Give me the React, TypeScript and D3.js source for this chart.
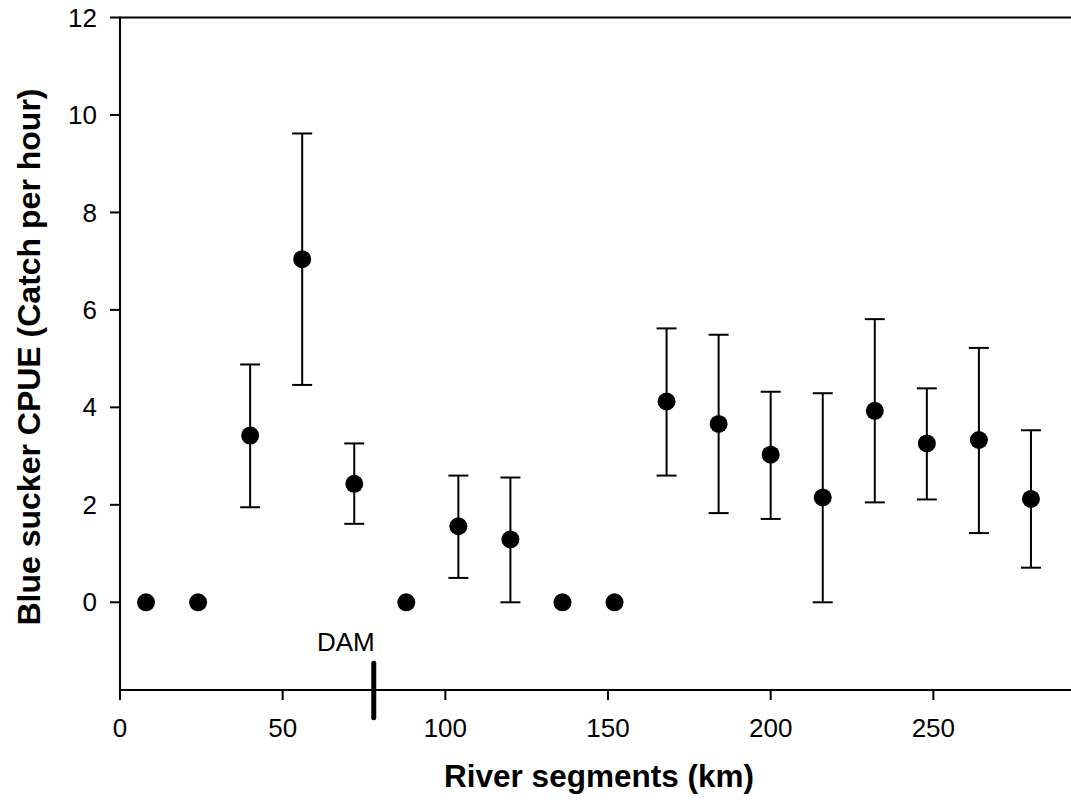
import React from "react";
import * as d3 from "d3";

const segmentsKm = [8, 24, 40, 56, 72, 88, 104, 120, 136, 152, 168, 184, 200, 216, 232, 248, 264, 280];
const cpueMean = [0, 0, 3.42, 7.04, 2.43, 0, 1.56, 1.29, 0, 0, 4.12, 3.66, 3.03, 2.15, 3.93, 3.26, 3.33, 2.12];
const cpueLower = [null, null, 1.95, 4.46, 1.61, null, 0.5, 0, null, null, 2.6, 1.83, 1.71, 0, 2.05, 2.11, 1.42, 0.71];
const cpueUpper = [null, null, 4.88, 9.62, 3.26, null, 2.6, 2.56, null, null, 5.62, 5.49, 4.32, 4.29, 5.81, 4.39, 5.22, 3.53];
const xTicks = [0, 50, 100, 150, 200, 250];
const yTicks = [0, 2, 4, 6, 8, 10, 12];
const damKm = 78;
const damSpan = [-1.25, -2.37];
const damLabel = "DAM";
const xTitle = "River segments (km)";
const yTitle = "Blue sucker CPUE (Catch per hour)";

const W = 1071;
const H = 805;
const left = 120;
const right = 1070;
const top = 17.5;
const bottom = 690;

export default function App() {
  const x = d3.scaleLinear().domain([0, 292]).range([left, right]);
  const y = d3.scaleLinear().domain([-1.8, 12]).range([bottom, top]);
  const font = "Arial, 'Liberation Sans', Helvetica, sans-serif";
  const capHalf = 10;

  return (
    <div style={{ position: "fixed", left: 0, top: 0, background: "#fff" }}>
      <svg width={W} height={H} style={{ display: "block" }} fontFamily={font}>
        <rect x={0} y={0} width={W} height={H} fill="#fff" />
        {/* top border */}
        <line x1={left} x2={W} y1={y(12)} y2={y(12)} stroke="#000" strokeWidth={2} />
        {/* axes */}
        <line x1={left} x2={left} y1={top - 1} y2={bottom + 1} stroke="#000" strokeWidth={2} />
        <line x1={left - 1} x2={W} y1={bottom} y2={bottom} stroke="#000" strokeWidth={2} />
        {yTicks.map((t) => (
          <g key={"y" + t}>
            <line x1={left - 10} x2={left} y1={y(t)} y2={y(t)} stroke="#000" strokeWidth={2} />
            <text x={left - 23} y={y(t)} dy="0.35em" textAnchor="end" fontSize={26} fill="#000">
              {t}
            </text>
          </g>
        ))}
        {xTicks.map((t) => (
          <g key={"x" + t}>
            <line x1={x(t)} x2={x(t)} y1={bottom} y2={bottom + 10} stroke="#000" strokeWidth={2} />
            <text x={x(t)} y={737} textAnchor="middle" fontSize={26} fill="#000">
              {t}
            </text>
          </g>
        ))}
        {/* error bars */}
        {segmentsKm.map((k, i) => {
          const lo = cpueLower[i];
          const hi = cpueUpper[i];
          if (lo == null || hi == null) return null;
          const cx = x(k);
          return (
            <g key={"e" + i} stroke="#000" strokeWidth={2}>
              <line x1={cx} x2={cx} y1={y(lo)} y2={y(hi)} />
              <line x1={cx - capHalf} x2={cx + capHalf} y1={y(lo)} y2={y(lo)} />
              <line x1={cx - capHalf} x2={cx + capHalf} y1={y(hi)} y2={y(hi)} />
            </g>
          );
        })}
        {segmentsKm.map((k, i) => (
          <circle key={"p" + i} cx={x(k)} cy={y(cpueMean[i])} r={9} fill="#000" />
        ))}
        {/* dam */}
        <line
          x1={x(damKm)}
          x2={x(damKm)}
          y1={y(damSpan[0])}
          y2={y(damSpan[1])}
          stroke="#000"
          strokeWidth={5}
          strokeLinecap="round"
        />
        <text x={x(damKm) - 28} y={651} textAnchor="middle" fontSize={26} fill="#000">
          {damLabel}
        </text>
        {/* titles */}
        <text x={599} y={787} textAnchor="middle" fontSize={31.5} fontWeight="bold" fill="#000">
          {xTitle}
        </text>
        <text
          transform={`translate(40, 357) rotate(-90)`}
          textAnchor="middle"
          fontSize={32}
          fontWeight="bold"
          fill="#000"
        >
          {yTitle}
        </text>
      </svg>
    </div>
  );
}
